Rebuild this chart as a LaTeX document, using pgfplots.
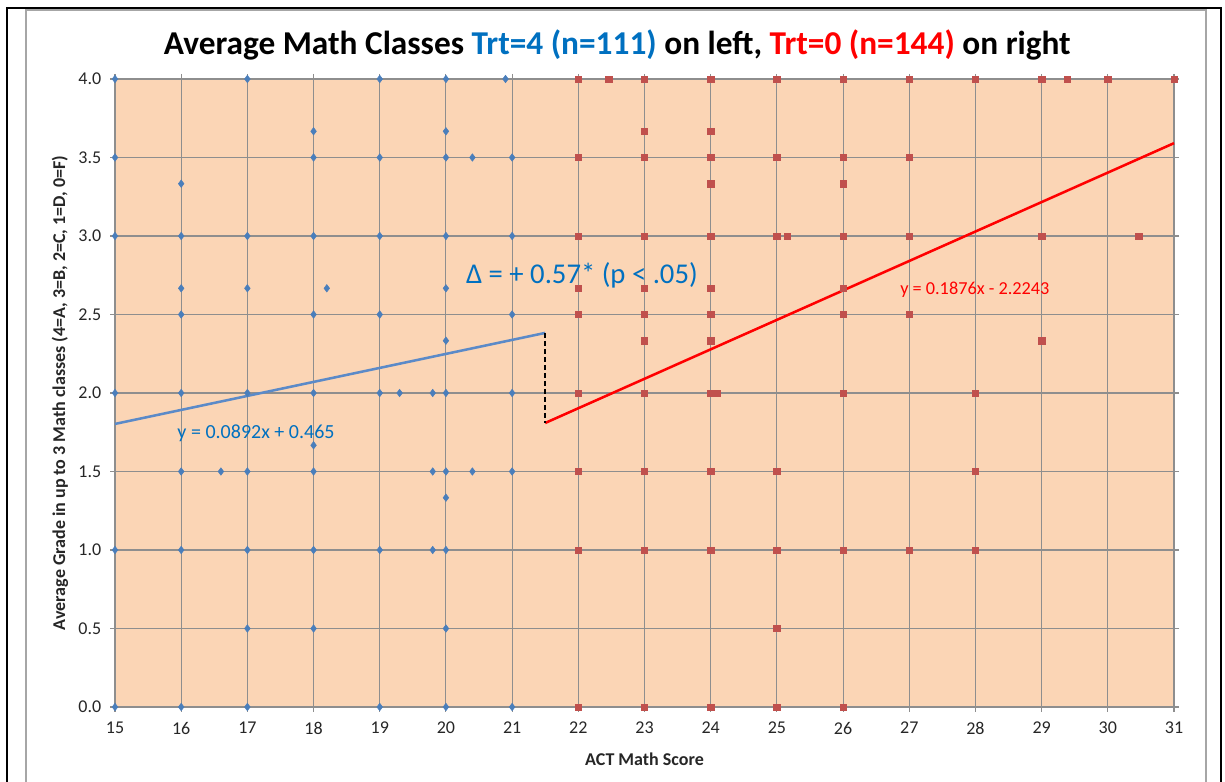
\documentclass[border=0pt]{standalone}
\usepackage{fontspec}
\setmainfont{Carlito}
\usepackage{pgfplots}
\pgfplotsset{compat=1.18}
\definecolor{bgpeach}{HTML}{FBD5B5}
\definecolor{gridgray}{HTML}{8E8E8E}
\definecolor{mblue}{HTML}{4A7EBB}
\definecolor{mred}{HTML}{C0504D}
\definecolor{tblue}{HTML}{0070C0}
\definecolor{lblue}{HTML}{5B8AC8}
\begin{document}
\begin{tikzpicture}
\path[use as bounding box] (0pt,0pt) rectangle (918.75pt,586.5pt);
% frames
\draw[black, line width=1.3pt] (5.25pt,-2pt) -- (5.25pt,580.5pt) -- (915.75pt,580.5pt) -- (915.75pt,-2pt);
\draw[gray!70, line width=1pt] (19.5pt,-2pt) -- (19.5pt,579pt) -- (904.5pt,579pt) -- (904.5pt,-2pt);
\begin{axis}[
  at={(86.25pt,56.25pt)}, anchor=south west,
  scale only axis, width=794.25pt, height=471pt,
  xmin=15, xmax=31, ymin=0, ymax=4,
  xtick={15,16,...,31}, ytick={0,0.5,...,4},
  yticklabel style={/pgf/number format/fixed, /pgf/number format/precision=1, /pgf/number format/fixed zerofill, xshift=-3pt},
  xticklabel style={yshift=-4pt},
  /pgf/number format/assume math mode=true,
  tick label style={font=\fontsize{13.5}{16}\selectfont, text=black!85},
  tick align=outside, major tick length=3.75pt,
  tick style={gridgray, line width=0.8pt},
  axis line style={gridgray, line width=0.8pt},
  grid=major, major grid style={gridgray, line width=0.8pt},
  axis background/.style={fill=bgpeach},
  xlabel={ACT Math Score},
  ylabel={Average Grade in up to 3 Math classes (4=A, 3=B, 2=C, 1=D, 0=F)},
  every axis x label/.style={at={(axis description cs:0.5,-0.083)}, anchor=center, font=\fontsize{13.5}{16}\selectfont\bfseries, text=black!85},
  every axis y label/.style={at={(axis description cs:-0.052,0.5)}, rotate=90, anchor=center, font=\fontsize{13.5}{16}\selectfont\bfseries, text=black!85},
  clip=false,
]
% Trt=4 (blue diamonds)
\addplot[only marks, mark=diamond*, mark size=2.8pt, color=mblue, mark options={fill=mblue, draw=mblue}] coordinates {
(15,4)(15,3.5)(15,3)(15,2)(15,1)(15,0)
(16,3.333)(16,3)(16,2.667)(16,2.5)(16,2)(16,1.5)(16,1)(16,0)
(16.6,1.5)
(17,4)(17,3)(17,2.667)(17,2)(17,1.5)(17,1)(17,0.5)(17,0)
(18,3.667)(18,3.5)(18,3)(18,2.5)(18,2)(18,1.667)(18,1.5)(18,1)(18,0.5)
(18.2,2.667)
(19,4)(19,3.5)(19,3)(19,2.5)(19,2)(19,1)(19,0)
(19.3,2)
(19.8,2)(19.8,1.5)(19.8,1)
(20,4)(20,3.667)(20,3.5)(20,3)(20,2.667)(20,2.333)(20,2)(20,1.5)(20,1.333)(20,1)(20,0.5)(20,0)
(20.4,3.5)(20.4,1.5)
(20.9,4)
(21,3.5)(21,3)(21,2.5)(21,2)(21,1.5)(21,0)
};
% Trt=0 (red squares)
\addplot[only marks, mark=square*, mark size=2.4pt, color=mred, mark options={fill=mred, draw=mred}] coordinates {
(22,4)(22.46,4)(23,4)(24,4)(25,4)(26,4)(27,4)(28,4)(29,4)(29.39,4)(30,4)(31,4)
(23,3.667)(24,3.667)
(22,3.5)(23,3.5)(24,3.5)(25,3.5)(26,3.5)(27,3.5)
(24,3.333)(26,3.333)
(22,3)(23,3)(24,3)(25,3)(25.16,3)(26,3)(27,3)(29,3)(30.47,3)
(22,2.667)(23,2.667)(24,2.667)(26,2.667)
(22,2.5)(23,2.5)(24,2.5)(26,2.5)(27,2.5)
(23,2.333)(24,2.333)(29,2.333)
(22,2)(23,2)(24,2)(24.09,2)(26,2)(28,2)
(22,1.5)(23,1.5)(24,1.5)(25,1.5)(28,1.5)
(22,1)(23,1)(24,1)(25,1)(26,1)(27,1)(28,1)
(25,0.5)
(22,0)(23,0)(24,0)(25,0)(26,0)
};
% regression lines
\addplot[lblue, line width=1.9pt, no marks] coordinates {(15,1.803)(21.5,2.3828)};
\addplot[red, line width=1.9pt, no marks] coordinates {(21.5,1.8091)(31,3.5913)};
\addplot[black, line width=1.8pt, dash pattern=on 4pt off 2pt, no marks] coordinates {(21.5,2.3828)(21.5,1.8091)};
% annotations
\node[anchor=west, text=tblue, font=\fontsize{21.5}{25}\selectfont, inner sep=0pt] at (axis cs:20.3,2.75) {Δ = + 0.57* (p < .05)};
\node[anchor=west, text=tblue, font=\fontsize{15}{18}\selectfont, inner sep=0pt] at (axis cs:15.94,1.745) {y = 0.0892x + 0.465};
\node[anchor=west, text=red, font=\fontsize{13.7}{16}\selectfont, inner sep=0pt] at (axis cs:26.86,2.656) {y = 0.1876x - 2.2243};
\end{axis}
\node[font=\fontsize{25}{30}\selectfont\bfseries] at (463pt,552.75pt) {Average Math Classes \textcolor{tblue}{Trt=4 (n=111)} on left, \textcolor{red}{Trt=0 (n=144)} on right};
\end{tikzpicture}
\end{document}
